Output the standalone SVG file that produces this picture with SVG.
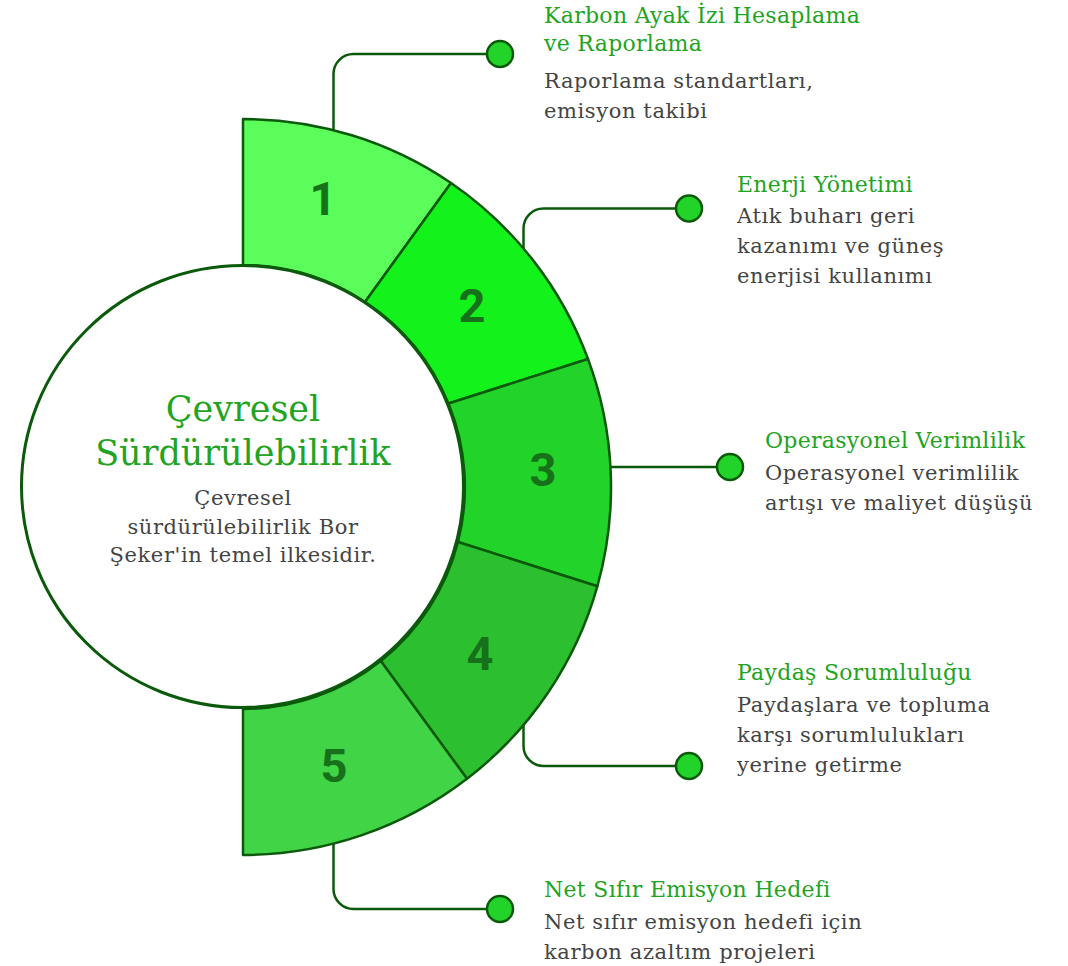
<svg xmlns="http://www.w3.org/2000/svg" width="1068" height="966" viewBox="0 0 1068 966">
<style>
.seg{stroke:#0b5a0b;stroke-width:2.5;stroke-linejoin:round}
.num{font-family:Roboto,"Liberation Sans",sans-serif;font-weight:700;font-size:47px;fill:#17711a;text-anchor:middle}
.conn{fill:none;stroke:#0b5a0b;stroke-width:2.5}
.dot{fill:#22d42a;stroke:#0b5a0b;stroke-width:2.5}
.ttl{font-family:"DejaVu Serif","Liberation Serif",serif;font-size:22px;letter-spacing:0.3px;fill:#22a322}
.dsc{font-family:"DejaVu Serif","Liberation Serif",serif;font-size:21px;letter-spacing:0.6px;fill:#444444}
.ctitle{font-family:"DejaVu Serif","Liberation Serif",serif;font-size:35px;fill:#22a322;text-anchor:middle}
.cdsc{font-family:"DejaVu Serif","Liberation Serif",serif;font-size:21px;letter-spacing:0.6px;fill:#444444;text-anchor:middle}
</style>
<rect width="1068" height="966" fill="#ffffff"/>
<g id="connectors">
<path class="conn" d="M333.5 140 V74 A20 20 0 0 1 353.5 54 H500"/>
<path class="conn" d="M523.5 260 V228.5 A20 20 0 0 1 543.5 208.5 H689"/>
<path class="conn" d="M605 467 H730"/>
<path class="conn" d="M523.5 715 V746 A20 20 0 0 0 543.5 766 H689"/>
<path class="conn" d="M333.5 840 V889 A20 20 0 0 0 353.5 909 H500"/>
</g>
<g id="seg1"><path class="seg" fill="#5bfd5b" d="M243 265 L243 119 A368 368 0 0 1 451 183 L365 302 A222 222 0 0 0 243 265 Z"/><text class="num" x="323" y="215">1</text></g>
<g id="seg2"><path class="seg" fill="#13f31b" d="M365 302 L451 183 A368 368 0 0 1 588 359 L448.5 403.5 A222 222 0 0 0 365 302 Z"/><text class="num" x="472" y="322">2</text></g>
<g id="seg3"><path class="seg" fill="#22d32a" d="M448.5 403.5 L588 359 A368 368 0 0 1 597.4 586.2 L458 542 A222 222 0 0 0 448.5 403.5 Z"/><text class="num" x="543" y="486">3</text></g>
<g id="seg4"><path class="seg" fill="#2cc030" d="M458 542 L597.4 586.2 A368 368 0 0 1 467 778.8 L380.8 661 A222 222 0 0 0 458 542 Z"/><text class="num" x="480" y="670">4</text></g>
<g id="seg5"><path class="seg" fill="#41d447" d="M380.8 661 L467 778.8 A368 368 0 0 1 243 855 L243 709 A222 222 0 0 0 380.8 661 Z"/><text class="num" x="334" y="782">5</text></g>
<g id="center">
<circle cx="242.5" cy="486.5" r="221" fill="#ffffff" stroke="#0b5a0b" stroke-width="3"/>
<text class="ctitle" x="243" y="421">Çevresel</text>
<text class="ctitle" x="243" y="465">Sürdürülebilirlik</text>
<text class="cdsc" x="243" y="505">Çevresel</text>
<text class="cdsc" x="243" y="533.5">sürdürülebilirlik Bor</text>
<text class="cdsc" x="243" y="562">Şeker'in temel ilkesidir.</text>
</g>
<g id="dots">
<circle class="dot" cx="500" cy="54" r="13"/>
<circle class="dot" cx="689" cy="208.5" r="13"/>
<circle class="dot" cx="730" cy="467" r="13"/>
<circle class="dot" cx="689" cy="766" r="13"/>
<circle class="dot" cx="500" cy="909" r="13"/>
</g>
<g id="label1">
<text class="ttl" x="544" y="23">Karbon Ayak İzi Hesaplama</text>
<text class="ttl" x="544" y="51">ve Raporlama</text>
<text class="dsc" x="544" y="88">Raporlama standartları,</text>
<text class="dsc" x="544" y="118">emisyon takibi</text>
</g>
<g id="label2">
<text class="ttl" x="737" y="192">Enerji Yönetimi</text>
<text class="dsc" x="737" y="223">Atık buharı geri</text>
<text class="dsc" x="737" y="253">kazanımı ve güneş</text>
<text class="dsc" x="737" y="283">enerjisi kullanımı</text>
</g>
<g id="label3">
<text class="ttl" x="765" y="448">Operasyonel Verimlilik</text>
<text class="dsc" x="765" y="480">Operasyonel verimlilik</text>
<text class="dsc" x="765" y="510">artışı ve maliyet düşüşü</text>
</g>
<g id="label4">
<text class="ttl" x="737" y="680">Paydaş Sorumluluğu</text>
<text class="dsc" x="737" y="712">Paydaşlara ve topluma</text>
<text class="dsc" x="737" y="742">karşı sorumlulukları</text>
<text class="dsc" x="737" y="772">yerine getirme</text>
</g>
<g id="label5">
<text class="ttl" x="544" y="897">Net Sıfır Emisyon Hedefi</text>
<text class="dsc" x="544" y="929">Net sıfır emisyon hedefi için</text>
<text class="dsc" x="544" y="959">karbon azaltım projeleri</text>
</g>
</svg>
